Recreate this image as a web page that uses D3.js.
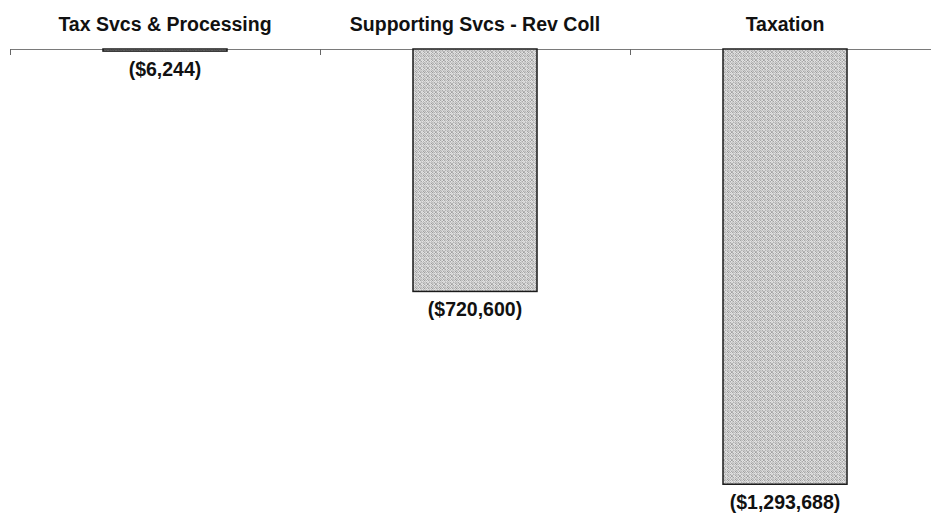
<!DOCTYPE html>
<html>
<head>
<meta charset="utf-8">
<script src="https://cdn.jsdelivr.net/npm/d3@7"></script>
<style>
  html, body { margin: 0; padding: 0; background: #fff; }
  svg { display: block; }
  text { font-family: "Liberation Sans", Arial, Helvetica, sans-serif; font-weight: bold; fill: #111; }
</style>
</head>
<body>
<svg id="chart" width="931" height="520"></svg>
<script>
const categories = ["Tax Svcs & Processing", "Supporting Svcs - Rev Coll", "Taxation"];
const values = [-6244, -720600, -1293688];
const valueLabels = ["($6,244)", "($720,600)", "($1,293,688)"];

const svg = d3.select("#chart");
const W = 931, H = 520;
const axisY = 49;

const x = d3.scaleBand().domain(categories).range([10, 940]).paddingInner(0.6).paddingOuter(0.3);
const y = d3.scaleLinear().domain([0, -1400000]).range([axisY, 520]);

// halftone-like texture for bar fill
const defs = svg.append("defs");
const N = 8;
const pat = defs.append("pattern").attr("id", "dither").attr("patternUnits", "userSpaceOnUse")
  .attr("width", N).attr("height", N);
const greys = ["#9c9c9c", "#c8c8c8", "#b2b2b2", "#dcdcdc", "#a8a8a8", "#d2d2d2", "#bcbcbc", "#e4e4e4"];
for (let j = 0; j < N; j++) {
  for (let i = 0; i < N; i++) {
    const k = (i * 5 + j * 3 + ((i * j) % 7)) % greys.length;
    pat.append("rect").attr("x", i).attr("y", j).attr("width", 1).attr("height", 1).attr("fill", greys[k]);
  }
}

// axis line
svg.append("line").attr("x1", 10).attr("x2", W).attr("y1", axisY + 0.5).attr("y2", axisY + 0.5)
  .attr("stroke", "#7a7a7a").attr("stroke-width", 1);
// ticks at category boundaries
const step = x.step();
categories.forEach(c => {
  const tx = Math.round(x(c) - step * x.paddingOuter()) + 0.5;
  svg.append("line").attr("x1", tx).attr("x2", tx).attr("y1", axisY).attr("y2", axisY + 6)
    .attr("stroke", "#666").attr("stroke-width", 1);
});

// bars
svg.selectAll("rect.bar").data(values).join("rect")
  .attr("class", "bar")
  .attr("x", (d, i) => x(categories[i]))
  .attr("y", d => y(0))
  .attr("width", x.bandwidth())
  .attr("height", d => Math.max(2, y(d) - y(0)))
  .attr("fill", "url(#dither)")
  .attr("stroke", "#1a1a1a")
  .attr("stroke-width", 1.5);

// category labels
svg.selectAll("text.cat").data(categories).join("text")
  .attr("class", "cat")
  .attr("x", d => x(d) + x.bandwidth() / 2)
  .attr("y", 31)
  .attr("text-anchor", "middle")
  .style("font-size", "19.5px")
  .text(d => d);

// value labels
svg.selectAll("text.val").data(values).join("text")
  .attr("class", "val")
  .attr("x", (d, i) => x(categories[i]) + x.bandwidth() / 2)
  .attr("y", d => Math.max(y(d), y(0) + 2) + 25)
  .attr("text-anchor", "middle")
  .style("font-size", "19.5px")
  .text((d, i) => valueLabels[i]);
</script>
</body>
</html>
